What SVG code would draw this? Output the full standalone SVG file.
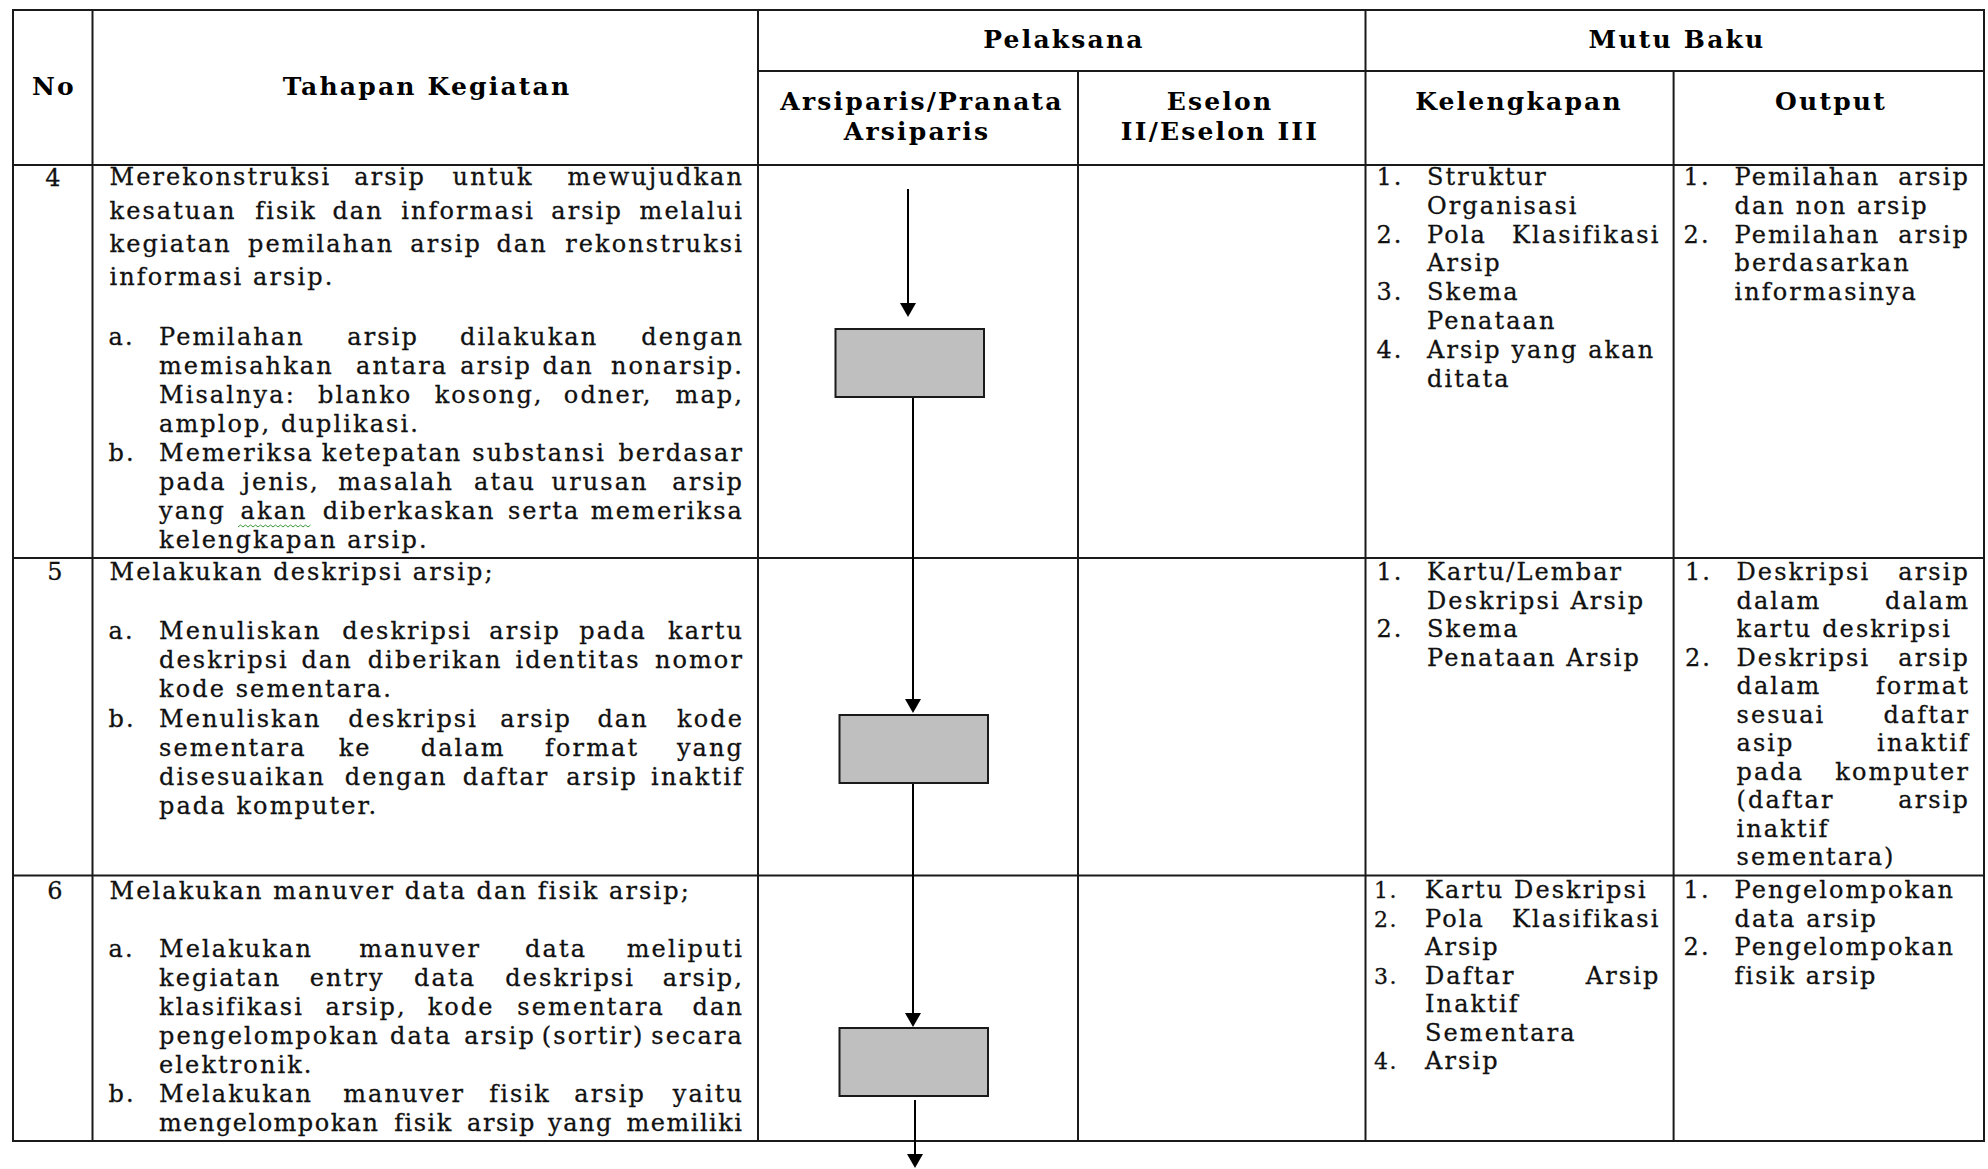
<svg xmlns="http://www.w3.org/2000/svg" width="1988" height="1169" viewBox="0 0 1988 1169">
<style>
  .grid line { stroke:#1a1a1a; stroke-width:2; }
  .t { font-family:"DejaVu Serif", serif; font-size:24px; letter-spacing:2.1px; fill:#111; stroke:#111; stroke-width:0.3px; }
  .n { font-family:"DejaVu Serif", serif; font-size:22px; letter-spacing:1.5px; fill:#111; stroke:#111; stroke-width:0.3px; }
  .h { font-family:"DejaVu Serif", serif; font-size:25px; font-weight:bold; letter-spacing:2.2px; fill:#000; text-anchor:middle; }
  .m { text-anchor:middle; }
  .e { text-anchor:end; }
  .c { text-anchor:middle; }
  .tight { letter-spacing:1.5px; }
  .box { fill:#BFBFBF; stroke:#1a1a1a; stroke-width:2; }
  .conn { stroke:#000; stroke-width:2; fill:none; marker-end:url(#arrow); }
</style>
<defs>
  <marker id="arrow" markerUnits="userSpaceOnUse" viewBox="0 0 14 16" markerWidth="14" markerHeight="16" refX="10" refY="8" orient="auto">
    <path d="M0,0 L14,8 L0,16 z" fill="#000"/>
  </marker>
</defs>
<rect width="1988" height="1169" fill="#fff"/>

<g id="table" class="grid">
  <line x1="12" y1="10" x2="1985" y2="10"/>
  <line x1="758" y1="71" x2="1985" y2="71"/>
  <line x1="12" y1="165" x2="1985" y2="165"/>
  <line x1="12" y1="558" x2="1985" y2="558"/>
  <line x1="12" y1="875.5" x2="1985" y2="875.5"/>
  <line x1="12" y1="1141" x2="1985" y2="1141"/>
  <line x1="13" y1="9" x2="13" y2="1142"/>
  <line x1="92.5" y1="9" x2="92.5" y2="1142"/>
  <line x1="758" y1="9" x2="758" y2="1142"/>
  <line x1="1078" y1="71" x2="1078" y2="1142"/>
  <line x1="1365.5" y1="9" x2="1365.5" y2="1142"/>
  <line x1="1673.6" y1="71" x2="1673.6" y2="1142"/>
  <line x1="1984" y1="9" x2="1984" y2="1142"/>
</g>

<g id="header">
  <text class="h" x="54" y="95">No</text>
  <text class="h" x="427" y="95">Tahapan Kegiatan</text>
  <text class="h" x="1064" y="48">Pelaksana</text>
  <text class="h" x="1677" y="48">Mutu Baku</text>
  <text class="h" x="922" y="110">Arsiparis/Pranata</text>
  <text class="h" x="917" y="140">Arsiparis</text>
  <text class="h" x="1220" y="110">Eselon</text>
  <text class="h" x="1220" y="140">II/Eselon III</text>
  <text class="h" x="1519" y="110">Kelengkapan</text>
  <text class="h" x="1831" y="110">Output</text>
</g>

<g id="connectors">
  <line class="conn" x1="908" y1="189" x2="908" y2="313"/>
  <line class="conn" x1="913" y1="397" x2="913" y2="709"/>
  <line class="conn" x1="913" y1="783" x2="913" y2="1023"/>
  <line class="conn" x1="915" y1="1100" x2="915" y2="1164"/>
</g>

<g id="node-step4">
  <rect class="box" x="835.5" y="329" width="148.5" height="68"/>
</g>
<g id="node-step5">
  <rect class="box" x="839.5" y="715" width="148.5" height="68"/>
</g>
<g id="node-step6">
  <rect class="box" x="839.5" y="1028" width="148.5" height="68"/>
</g>

<g id="row4-tahapan">
  <text class="t c" x="54" y="186">4</text>
  <text class="t" y="185"><tspan x="109.5">Merekonstruksi</tspan> <tspan class="m" x="395">arsip</tspan> <tspan class="m" x="498">untuk</tspan> <tspan class="e" x="744">mewujudkan</tspan></text>
  <text class="t" y="219"><tspan x="109.5">kesatuan</tspan> <tspan class="m" x="291">fisik</tspan> <tspan class="m" x="363">dan</tspan> <tspan class="m" x="473">informasi</tspan> <tspan class="m" x="592">arsip</tspan> <tspan class="e" x="744">melalui</tspan></text>
  <text class="t" y="252"><tspan x="109.5">kegiatan</tspan> <tspan class="m" x="326">pemilahan</tspan> <tspan class="m" x="451">arsip</tspan> <tspan class="m" x="527">dan</tspan> <tspan class="e" x="744">rekonstruksi</tspan></text>
  <text class="t" x="109.5" y="285">informasi arsip.</text>

  <text class="t" x="108.5" y="345">a.</text>
  <text class="t" y="345"><tspan x="159">Pemilahan</tspan> <tspan class="m" x="388">arsip</tspan> <tspan class="m" x="534">dilakukan</tspan> <tspan class="e" x="744">dengan</tspan></text>
  <text class="t" y="374"><tspan x="159">memisahkan</tspan> <tspan class="m" x="407">antara</tspan> <tspan class="m" x="501">arsip</tspan> <tspan class="m" x="573">dan</tspan> <tspan class="e" x="744">nonarsip.</tspan></text>
  <text class="t" y="403"><tspan x="159">Misalnya:</tspan> <tspan class="m" x="370">blanko</tspan> <tspan class="m" x="494">kosong,</tspan> <tspan class="m" x="613">odner,</tspan> <tspan class="e" x="744">map,</tspan></text>
  <text class="t" x="159" y="432">amplop, duplikasi.</text>

  <text class="t" x="108.5" y="461">b.</text>
  <text class="t" y="461"><tspan x="159">Memeriksa</tspan> <tspan class="m" x="397">ketepatan</tspan> <tspan class="m" x="544">substansi</tspan> <tspan class="e" x="744">berdasar</tspan></text>
  <text class="t" y="490"><tspan x="159">pada</tspan> <tspan class="m" x="286">jenis,</tspan> <tspan class="m" x="401">masalah</tspan> <tspan class="m" x="510">atau</tspan> <tspan class="m" x="605">urusan</tspan> <tspan class="e" x="744">arsip</tspan></text>
  <text class="t" y="519"><tspan x="159">yang</tspan> <tspan class="m" x="279">akan</tspan> <tspan class="m" x="414">diberkaskan</tspan> <tspan class="m" x="549">serta</tspan> <tspan class="e" x="744">memeriksa</tspan></text>
  <path d="M238,527 l2.5,-2 l2.5,2 l2.5,-2 l2.5,2 l2.5,-2 l2.5,2 l2.5,-2 l2.5,2 l2.5,-2 l2.5,2 l2.5,-2 l2.5,2 l2.5,-2 l2.5,2 l2.5,-2 l2.5,2 l2.5,-2 l2.5,2 l2.5,-2 l2.5,2 l2.5,-2 l2.5,2 l2.5,-2 l2.5,2 l2.5,-2 l2.5,2 l2.5,-2 l2.5,2 l2.5,-2" fill="none" stroke="#3c9a3c" stroke-width="1"/>
  <text class="t" x="159" y="548">kelengkapan arsip.</text>
</g>

<g id="row4-kelengkapan">
  <text class="t" x="1376.5" y="185">1.</text><text class="t" x="1427" y="185">Struktur</text>
  <text class="t" x="1427" y="213.8">Organisasi</text>
  <text class="t" x="1376.5" y="242.6">2.</text><text class="t" y="242.6"><tspan x="1427">Pola</tspan> <tspan class="e" x="1660.5">Klasifikasi</tspan></text>
  <text class="t" x="1427" y="271.4">Arsip</text>
  <text class="t" x="1376.5" y="300.2">3.</text><text class="t" x="1427" y="300.2">Skema</text>
  <text class="t" x="1427" y="329">Penataan</text>
  <text class="t" x="1376.5" y="357.8">4.</text><text class="t" x="1427" y="357.8">Arsip yang akan</text>
  <text class="t" x="1427" y="386.6">ditata</text>
</g>

<g id="row4-output">
  <text class="t" x="1683.6" y="185">1.</text><text class="t" y="185"><tspan x="1734.5">Pemilahan</tspan> <tspan class="e" x="1970">arsip</tspan></text>
  <text class="t" x="1734.5" y="213.8">dan non arsip</text>
  <text class="t" x="1683.6" y="242.6">2.</text><text class="t" y="242.6"><tspan x="1734.5">Pemilahan</tspan> <tspan class="e" x="1970">arsip</tspan></text>
  <text class="t" x="1734.5" y="271.4">berdasarkan</text>
  <text class="t" x="1734.5" y="300.2">informasinya</text>
</g>

<g id="row5-tahapan">
  <text class="t c" x="56" y="580">5</text>
  <text class="t" x="109.5" y="580">Melakukan deskripsi arsip;</text>
  <text class="t" x="108.5" y="639">a.</text>
  <text class="t" y="639"><tspan x="159">Menuliskan</tspan> <tspan class="m" x="412">deskripsi</tspan> <tspan class="m" x="530">arsip</tspan> <tspan class="m" x="618">pada</tspan> <tspan class="e" x="744">kartu</tspan></text>
  <text class="t" y="668"><tspan x="159">deskripsi</tspan> <tspan class="m" x="332">dan</tspan> <tspan class="m" x="440">diberikan</tspan> <tspan class="m" x="583">identitas</tspan> <tspan class="e" x="744">nomor</tspan></text>
  <text class="t" x="159" y="697">kode sementara.</text>
  <text class="t" x="108.5" y="727">b.</text>
  <text class="t" y="727"><tspan x="159">Menuliskan</tspan> <tspan class="m" x="418">deskripsi</tspan> <tspan class="m" x="541">arsip</tspan> <tspan class="m" x="628">dan</tspan> <tspan class="e" x="744">kode</tspan></text>
  <text class="t" y="756"><tspan x="159">sementara</tspan> <tspan class="m" x="360">ke</tspan> <tspan class="m" x="468">dalam</tspan> <tspan class="m" x="597">format</tspan> <tspan class="e" x="744">yang</tspan></text>
  <text class="t" y="785"><tspan x="159">disesuaikan</tspan> <tspan class="m" x="401">dengan</tspan> <tspan class="m" x="511">daftar</tspan> <tspan class="m" x="607">arsip</tspan> <tspan class="e" x="744">inaktif</tspan></text>
  <text class="t" x="159" y="814">pada komputer.</text>
</g>

<g id="row5-kelengkapan">
  <text class="t" x="1376.5" y="580">1.</text><text class="t" x="1427" y="580">Kartu/Lembar</text>
  <text class="t" x="1427" y="608.5">Deskripsi Arsip</text>
  <text class="t" x="1376.5" y="637">2.</text><text class="t" x="1427" y="637">Skema</text>
  <text class="t" x="1427" y="665.5">Penataan Arsip</text>
</g>

<g id="row5-output">
  <text class="t" x="1685" y="580">1.</text><text class="t" y="580"><tspan x="1736.5">Deskripsi</tspan> <tspan class="e" x="1970">arsip</tspan></text>
  <text class="t" y="608.5"><tspan x="1736.5">dalam</tspan> <tspan class="e" x="1970">dalam</tspan></text>
  <text class="t" x="1736.5" y="637">kartu deskripsi</text>
  <text class="t" x="1685" y="665.5">2.</text><text class="t" y="665.5"><tspan x="1736.5">Deskripsi</tspan> <tspan class="e" x="1970">arsip</tspan></text>
  <text class="t" y="694"><tspan x="1736.5">dalam</tspan> <tspan class="e" x="1970">format</tspan></text>
  <text class="t" y="722.5"><tspan x="1736.5">sesuai</tspan> <tspan class="e" x="1970">daftar</tspan></text>
  <text class="t" y="751"><tspan x="1736.5">asip</tspan> <tspan class="e" x="1970">inaktif</tspan></text>
  <text class="t" y="779.5"><tspan x="1736.5">pada</tspan> <tspan class="e" x="1970">komputer</tspan></text>
  <text class="t" y="808"><tspan x="1736.5">(daftar</tspan> <tspan class="e" x="1970">arsip</tspan></text>
  <text class="t" x="1736.5" y="836.5">inaktif</text>
  <text class="t" x="1736.5" y="865">sementara)</text>
</g>

<g id="row6-tahapan">
  <text class="t c" x="56" y="899">6</text>
  <text class="t" x="109.5" y="899">Melakukan manuver data dan fisik arsip;</text>
  <text class="t" x="108.5" y="957">a.</text>
  <text class="t" y="957"><tspan x="159">Melakukan</tspan> <tspan class="m" x="425">manuver</tspan> <tspan class="m" x="561">data</tspan> <tspan class="e" x="744">meliputi</tspan></text>
  <text class="t" y="986"><tspan x="159">kegiatan</tspan> <tspan class="m" x="352">entry</tspan> <tspan class="m" x="450">data</tspan> <tspan class="m" x="575">deskripsi</tspan> <tspan class="e" x="744">arsip,</tspan></text>
  <text class="t" y="1015"><tspan x="159">klasifikasi</tspan> <tspan class="m" x="371">arsip,</tspan> <tspan class="m" x="466">kode</tspan> <tspan class="m" x="596">sementara</tspan> <tspan class="e" x="744">dan</tspan></text>
  <text class="t" y="1044"><tspan x="159">pengelompokan</tspan> <tspan class="m" x="426">data</tspan> <tspan class="m" x="505">arsip</tspan> <tspan class="m" x="598">(sortir)</tspan> <tspan class="e" x="744">secara</tspan></text>
  <text class="t" x="159" y="1073">elektronik.</text>
  <text class="t" x="108.5" y="1102">b.</text>
  <text class="t" y="1102"><tspan x="159">Melakukan</tspan> <tspan class="m" x="409">manuver</tspan> <tspan class="m" x="525">fisik</tspan> <tspan class="m" x="615">arsip</tspan> <tspan class="e" x="744">yaitu</tspan></text>
  <text class="t tight" y="1131"><tspan x="159">mengelompokan</tspan> <tspan class="m" x="428">fisik</tspan> <tspan class="m" x="506">arsip</tspan> <tspan class="m" x="585">yang</tspan> <tspan class="e" x="743.5">memiliki</tspan></text>
</g>

<g id="row6-kelengkapan">
  <text class="n" x="1374" y="898">1.</text><text class="t" x="1425" y="898">Kartu Deskripsi</text>
  <text class="n" x="1374" y="926.5">2.</text><text class="t" y="926.5"><tspan x="1425">Pola</tspan> <tspan class="e" x="1660.5">Klasifikasi</tspan></text>
  <text class="t" x="1425" y="955">Arsip</text>
  <text class="n" x="1374" y="984">3.</text><text class="t" y="984"><tspan x="1425">Daftar</tspan> <tspan class="e" x="1660.5">Arsip</tspan></text>
  <text class="t" x="1425" y="1012">Inaktif</text>
  <text class="t" x="1425" y="1041">Sementara</text>
  <text class="n" x="1374" y="1069">4.</text><text class="t" x="1425" y="1069">Arsip</text>
</g>

<g id="row6-output">
  <text class="t" x="1683.6" y="898">1.</text><text class="t" x="1734.5" y="898">Pengelompokan</text>
  <text class="t" x="1734.5" y="926.5">data arsip</text>
  <text class="t" x="1683.6" y="955">2.</text><text class="t" x="1734.5" y="955">Pengelompokan</text>
  <text class="t" x="1734.5" y="984">fisik arsip</text>
</g>
</svg>
